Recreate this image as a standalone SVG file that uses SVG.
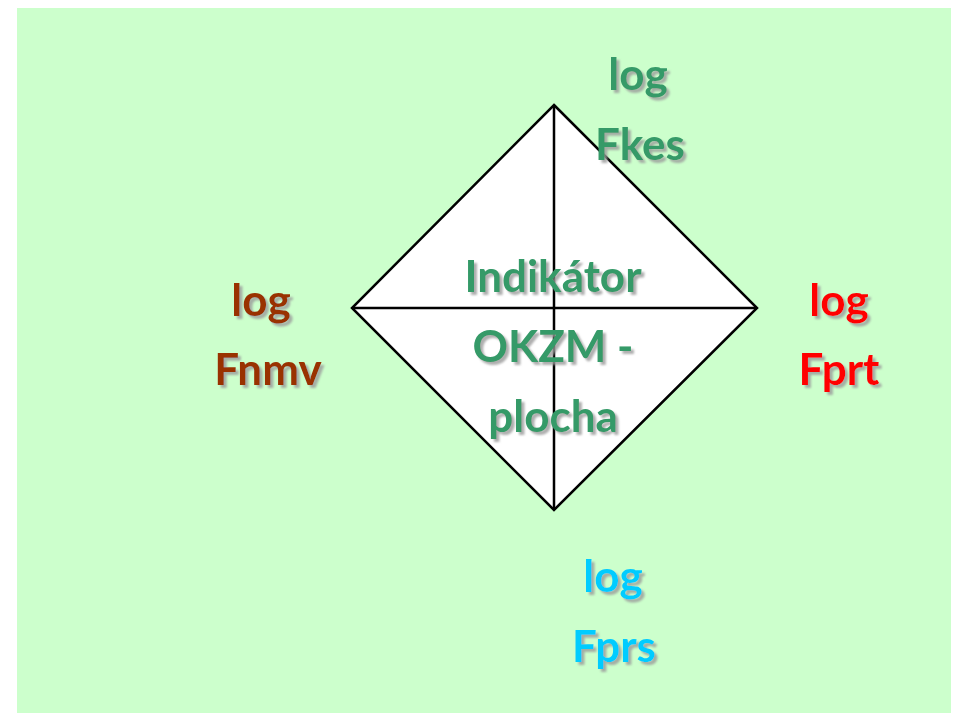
<svg xmlns="http://www.w3.org/2000/svg" width="953" height="715" viewBox="0 0 953 715">
  <defs>
    <filter id="shadow" x="-10%" y="-10%" width="130%" height="140%">
      <feGaussianBlur in="SourceAlpha" stdDeviation="1"/>
      <feOffset dx="3" dy="3" result="off"/>
      <feFlood flood-color="#9a9a9a" flood-opacity="0.8"/>
      <feComposite in2="off" operator="in"/>
      <feMerge><feMergeNode/><feMergeNode in="SourceGraphic"/></feMerge>
    </filter>
  </defs>
  <style>
    .lbl { font-family: Lato, "Open Sans", sans-serif; font-size: 44px; font-weight: 700; text-anchor: middle; filter: url(#shadow); }
    .green { fill: #359a68; }
    .brown { fill: #993300; }
    .red { fill: #ff0000; }
    .cyan { fill: #00ccff; }
    .edge { stroke: #000; stroke-width: 2.5; fill: none; }
  </style>
  <rect x="0" y="0" width="953" height="715" fill="#ffffff"/>
  <rect x="17" y="8" width="934" height="705" fill="#ccffcc"/>

  <g id="diamond">
    <polygon points="554,105 757,308 554,510 352,308" fill="#ffffff" stroke="#000" stroke-width="2.5"/>
  </g>
  <g id="connectors">
    <line class="edge" x1="554" y1="105" x2="554" y2="510"/>
    <line class="edge" x1="352" y1="308" x2="757" y2="308"/>
  </g>

  <g id="center-label">
    <text class="lbl green" x="553" y="292">Indikátor</text>
    <text class="lbl green" x="553" y="362">OKZM -</text>
    <text class="lbl green" x="553" y="432">plocha</text>
  </g>
  <g id="top-label">
    <text class="lbl green" x="638" y="90">log</text>
    <text class="lbl green" x="640" y="160">Fkes</text>
  </g>
  <g id="left-label">
    <text class="lbl brown" x="261" y="316">log</text>
    <text class="lbl brown" x="268" y="385">Fnmv</text>
  </g>
  <g id="right-label">
    <text class="lbl red" x="839" y="316">log</text>
    <text class="lbl red" x="839" y="385">Fprt</text>
  </g>
  <g id="bottom-label">
    <text class="lbl cyan" x="613" y="592">log</text>
    <text class="lbl cyan" x="614" y="662">Fprs</text>
  </g>
</svg>
